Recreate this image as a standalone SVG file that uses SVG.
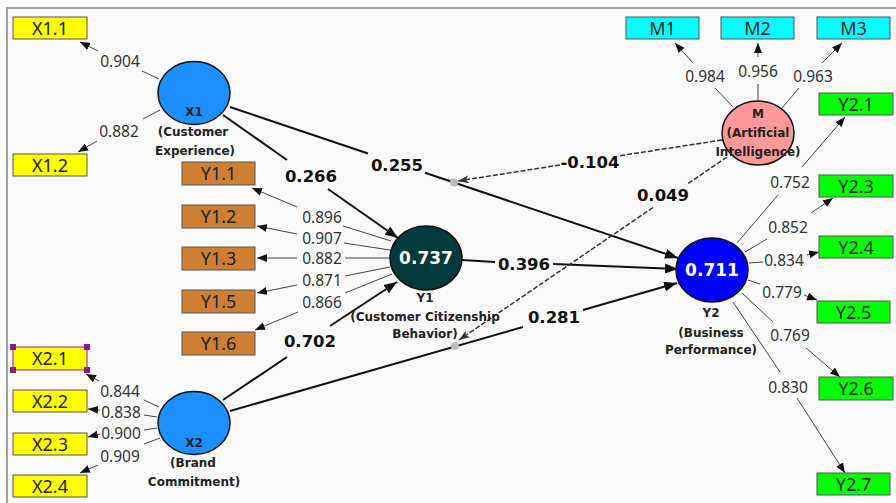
<svg xmlns="http://www.w3.org/2000/svg" width="896" height="503" viewBox="0 0 896 503">
<defs>
<style>
.box{stroke:#555;stroke-width:1}
.bl{font-family:"Noto Sans","Liberation Sans",sans-serif;font-size:18px;fill:#222;text-anchor:middle}
.ld{stroke:#444;stroke-width:1;fill:none}
.ldt{font-family:"Noto Sans","Liberation Sans",sans-serif;font-size:15.5px;fill:#333;text-anchor:middle}
.pl{stroke:#111;stroke-width:2;fill:none}
.pt{font-family:"DejaVu Sans","Liberation Sans",sans-serif;font-weight:bold;font-size:16.5px;fill:#111;text-anchor:middle}
.dl{stroke:#333;stroke-width:1.5;stroke-dasharray:5 2;fill:none}
.node{stroke:#111;stroke-width:1.5}
.nt{font-family:"DejaVu Sans","Liberation Sans",sans-serif;font-weight:bold;font-size:12px;fill:#222;text-anchor:middle}
.nv{font-family:"DejaVu Sans","Liberation Sans",sans-serif;font-weight:bold;font-size:17px;fill:#fff;text-anchor:middle}
.dot{fill:#bbb}
.sel{fill:#8b1a8b}
</style>
<marker id="aL" viewBox="0 0 10 8" markerWidth="10" markerHeight="8" refX="10" refY="4" orient="auto" markerUnits="userSpaceOnUse"><path d="M0,0 L10,4 L0,8 z" fill="#111"/></marker>
<marker id="aP" viewBox="0 0 13 10" markerWidth="13" markerHeight="10" refX="13" refY="5" orient="auto" markerUnits="userSpaceOnUse"><path d="M0,0 L13,5 L0,10 z" fill="#111"/></marker>
<marker id="aD" viewBox="0 0 11 8" markerWidth="11" markerHeight="8" refX="11" refY="4" orient="auto" markerUnits="userSpaceOnUse"><path d="M0,0 L11,4 L0,8 L3,4 z" fill="#333"/></marker>
</defs>
<rect x="0" y="0" width="896" height="503" fill="#ffffff"/>
<rect x="7" y="8" width="900" height="500" fill="#f9f9f9" stroke="#a0a0a0" stroke-width="2"/>

<g id="connectors">
  <!-- X1 loadings -->
  <line class="ld" x1="159" y1="79" x2="142" y2="71"/>
  <line class="ld" x1="98" y1="51" x2="80" y2="42" marker-end="url(#aL)"/>
  <text class="ldt" x="120" y="66.5">0.904</text>
  <line class="ld" x1="160" y1="110" x2="143" y2="119"/>
  <line class="ld" x1="97" y1="141" x2="78" y2="152" marker-end="url(#aL)"/>
  <text class="ldt" x="119" y="136.5">0.882</text>
  <!-- Y1 loadings -->
  <line class="ld" x1="391" y1="241" x2="343" y2="226"/>
  <line class="ld" x1="297" y1="207" x2="252" y2="188" marker-end="url(#aL)"/>
  <text class="ldt" x="322" y="222.5">0.896</text>
  <line class="ld" x1="390" y1="250" x2="344" y2="243"/>
  <line class="ld" x1="297" y1="234" x2="257" y2="226" marker-end="url(#aL)"/>
  <text class="ldt" x="322" y="243.5">0.907</text>
  <line class="ld" x1="390" y1="258" x2="345" y2="258"/>
  <line class="ld" x1="297" y1="258" x2="257" y2="258" marker-end="url(#aL)"/>
  <text class="ldt" x="322" y="264">0.882</text>
  <line class="ld" x1="390" y1="267" x2="345" y2="276"/>
  <line class="ld" x1="297" y1="285" x2="257" y2="293" marker-end="url(#aL)"/>
  <text class="ldt" x="322" y="285.5">0.871</text>
  <line class="ld" x1="392" y1="274" x2="345" y2="293"/>
  <line class="ld" x1="298" y1="312" x2="255" y2="330" marker-end="url(#aL)"/>
  <text class="ldt" x="322" y="307.5">0.866</text>
  <!-- X2 loadings -->
  <line class="ld" x1="159" y1="407" x2="144" y2="400"/>
  <line class="ld" x1="99" y1="381" x2="86" y2="374" marker-end="url(#aL)"/>
  <text class="ldt" x="120" y="396.5">0.844</text>
  <line class="ld" x1="157" y1="417" x2="144" y2="415"/>
  <line class="ld" x1="100" y1="410" x2="88" y2="409" marker-end="url(#aL)"/>
  <text class="ldt" x="121" y="418">0.838</text>
  <line class="ld" x1="157" y1="428" x2="144" y2="430"/>
  <line class="ld" x1="100" y1="434" x2="88" y2="437" marker-end="url(#aL)"/>
  <text class="ldt" x="121" y="438.5">0.900</text>
  <line class="ld" x1="160" y1="438" x2="144" y2="444"/>
  <line class="ld" x1="98" y1="465" x2="80" y2="473" marker-end="url(#aL)"/>
  <text class="ldt" x="120" y="461.5">0.909</text>
  <!-- M loadings -->
  <line class="ld" x1="733" y1="107" x2="715" y2="88"/>
  <line class="ld" x1="693" y1="63" x2="675" y2="43" marker-end="url(#aL)"/>
  <text class="ldt" x="705" y="81.5">0.984</text>
  <line class="ld" x1="758" y1="101" x2="758" y2="84"/>
  <line class="ld" x1="758" y1="57" x2="758" y2="43" marker-end="url(#aL)"/>
  <text class="ldt" x="758" y="76.5">0.956</text>
  <line class="ld" x1="782" y1="108" x2="799" y2="88"/>
  <line class="ld" x1="822" y1="63" x2="842" y2="43" marker-end="url(#aL)"/>
  <text class="ldt" x="813" y="81.5">0.963</text>
  <!-- Y2 loadings -->
  <line class="ld" x1="737" y1="243" x2="778" y2="195"/>
  <line class="ld" x1="802" y1="167" x2="845" y2="117" marker-end="url(#aL)"/>
  <text class="ldt" x="790" y="187.5">0.752</text>
  <line class="ld" x1="745" y1="252" x2="767" y2="239"/>
  <line class="ld" x1="811" y1="213" x2="833" y2="198" marker-end="url(#aL)"/>
  <text class="ldt" x="788" y="232.5">0.852</text>
  <line class="ld" x1="749" y1="263" x2="763" y2="262"/>
  <line class="ld" x1="807" y1="255" x2="819" y2="252" marker-end="url(#aL)"/>
  <text class="ldt" x="784" y="265.5">0.834</text>
  <line class="ld" x1="748" y1="280" x2="760" y2="284"/>
  <line class="ld" x1="804" y1="295" x2="817" y2="300" marker-end="url(#aL)"/>
  <text class="ldt" x="782" y="297.5">0.779</text>
  <line class="ld" x1="742" y1="293" x2="773" y2="322"/>
  <line class="ld" x1="806" y1="348" x2="840" y2="377" marker-end="url(#aL)"/>
  <text class="ldt" x="790" y="340.5">0.769</text>
  <line class="ld" x1="733" y1="302" x2="780" y2="372"/>
  <line class="ld" x1="797" y1="398" x2="845" y2="473" marker-end="url(#aL)"/>
  <text class="ldt" x="788" y="392.5">0.830</text>
  <!-- structural paths -->
  <line class="pl" x1="223" y1="115" x2="287" y2="160"/>
  <line class="pl" x1="328" y1="189" x2="398" y2="238" marker-end="url(#aP)"/>
  <text class="pt" x="311" y="182">0.266</text>
  <line class="pl" x1="230" y1="107" x2="368" y2="153.5"/>
  <line class="pl" x1="425" y1="172.7" x2="678" y2="258" marker-end="url(#aP)"/>
  <text class="pt" x="397" y="171">0.255</text>
  <line class="pl" x1="462" y1="260" x2="495" y2="262"/>
  <line class="pl" x1="553" y1="264" x2="678" y2="269" marker-end="url(#aP)"/>
  <text class="pt" x="524" y="270">0.396</text>
  <line class="pl" x1="223" y1="400" x2="287" y2="357"/>
  <line class="pl" x1="330" y1="326" x2="397" y2="282" marker-end="url(#aP)"/>
  <text class="pt" x="310" y="347">0.702</text>
  <line class="pl" x1="230" y1="411" x2="523" y2="327"/>
  <line class="pl" x1="583" y1="310" x2="677" y2="283" marker-end="url(#aP)"/>
  <text class="pt" x="554" y="323">0.281</text>
  <!-- moderating effects -->
  <line class="dl" x1="722" y1="140" x2="618" y2="156"/>
  <line class="dl" x1="560" y1="165" x2="458" y2="181" marker-end="url(#aD)"/>
  <text class="pt" x="590" y="168">-0.104</text>
  <line class="dl" x1="727" y1="157" x2="688" y2="183.6"/>
  <line class="dl" x1="653" y1="207.5" x2="459" y2="340" marker-end="url(#aD)"/>
  <text class="pt" x="663" y="201">0.049</text>
  <circle class="dot" cx="454" cy="182.5" r="4"/>
  <circle class="dot" cx="455" cy="346" r="4"/>
</g>

<g id="X1">
  <ellipse class="node" cx="194" cy="93" rx="36" ry="31.5" fill="#1e8fff"/>
  <text class="nt" x="194" y="115.5">X1</text>
  <text class="nt" x="193" y="135.5">(Customer</text>
  <text class="nt" x="195" y="154.5">Experience)</text>
</g>
<g id="X2">
  <ellipse class="node" cx="194" cy="423" rx="36" ry="31.5" fill="#1e8fff"/>
  <text class="nt" x="194" y="446.5">X2</text>
  <text class="nt" x="193" y="466.5">(Brand</text>
  <text class="nt" x="194" y="485.5">Commitment)</text>
</g>
<g id="Y1">
  <ellipse class="node" cx="426" cy="258" rx="36" ry="32" fill="#053a3a"/>
  <text class="nv" x="426" y="264">0.737</text>
  <text class="nt" x="425" y="301.5">Y1</text>
  <text class="nt" x="425" y="320.5">(Customer Citizenship</text>
  <text class="nt" x="425" y="338">Behavior)</text>
</g>
<g id="Y2">
  <ellipse class="node" cx="712" cy="270" rx="36" ry="32" fill="#0000ff"/>
  <text class="nv" x="712" y="276">0.711</text>
  <text class="nt" x="711" y="316.5">Y2</text>
  <text class="nt" x="711" y="336.5">(Business</text>
  <text class="nt" x="711" y="353.5">Performance)</text>
</g>
<g id="M">
  <ellipse class="node" cx="758" cy="133" rx="36" ry="32" fill="#ff9999"/>
  <text class="nt" x="758" y="117.5">M</text>
  <text class="nt" x="758" y="136.5">(Artificial</text>
  <text class="nt" x="758" y="155.5">Intelligence)</text>
</g>

<g id="X1.1"><rect class="box" x="13" y="17" width="74" height="22" fill="#ffff00"/><text class="bl" x="50" y="34.5">X1.1</text></g>
<g id="X1.2"><rect class="box" x="13" y="154" width="74" height="22" fill="#ffff00"/><text class="bl" x="50" y="171.5">X1.2</text></g>
<g id="X2.1"><rect x="13" y="347" width="74" height="23" fill="#ffff00" stroke="#a040a0" stroke-width="1.2"/><text class="bl" x="50" y="365">X2.1</text>
  <rect class="sel" x="10" y="344" width="6" height="6"/><rect class="sel" x="84" y="344" width="6" height="6"/><rect class="sel" x="10" y="367" width="6" height="6"/><rect class="sel" x="84" y="367" width="6" height="6"/></g>
<g id="X2.2"><rect class="box" x="13" y="390" width="74" height="22" fill="#ffff00"/><text class="bl" x="50" y="407.5">X2.2</text></g>
<g id="X2.3"><rect class="box" x="13" y="433" width="74" height="22" fill="#ffff00"/><text class="bl" x="50" y="450.5">X2.3</text></g>
<g id="X2.4"><rect class="box" x="13" y="475" width="74" height="22" fill="#ffff00"/><text class="bl" x="50" y="492.5">X2.4</text></g>

<g id="Y1.1"><rect class="box" x="182" y="162" width="73" height="23" fill="#cd8034"/><text class="bl" x="218.5" y="180">Y1.1</text></g>
<g id="Y1.2"><rect class="box" x="182" y="205" width="73" height="23" fill="#cd8034"/><text class="bl" x="218.5" y="223">Y1.2</text></g>
<g id="Y1.3"><rect class="box" x="182" y="247" width="73" height="23" fill="#cd8034"/><text class="bl" x="218.5" y="265">Y1.3</text></g>
<g id="Y1.5"><rect class="box" x="182" y="290" width="73" height="23" fill="#cd8034"/><text class="bl" x="218.5" y="308">Y1.5</text></g>
<g id="Y1.6"><rect class="box" x="182" y="332" width="73" height="23" fill="#cd8034"/><text class="bl" x="218.5" y="350">Y1.6</text></g>

<g id="M1"><rect class="box" x="626" y="17" width="73" height="22" fill="#00ffff"/><text class="bl" x="662.5" y="34.5">M1</text></g>
<g id="M2"><rect class="box" x="721" y="17" width="73" height="22" fill="#00ffff"/><text class="bl" x="757.5" y="34.5">M2</text></g>
<g id="M3"><rect class="box" x="817" y="17" width="73" height="22" fill="#00ffff"/><text class="bl" x="853.5" y="34.5">M3</text></g>

<g id="Y2.1"><rect class="box" x="819" y="93" width="74" height="22" fill="#00ff00"/><text class="bl" x="856" y="110.5">Y2.1</text></g>
<g id="Y2.3"><rect class="box" x="819" y="175" width="74" height="22" fill="#00ff00"/><text class="bl" x="856" y="192.5">Y2.3</text></g>
<g id="Y2.4"><rect class="box" x="819" y="236" width="74" height="22" fill="#00ff00"/><text class="bl" x="856" y="253.5">Y2.4</text></g>
<g id="Y2.5"><rect class="box" x="817" y="301" width="73" height="22" fill="#00ff00"/><text class="bl" x="853.5" y="318.5">Y2.5</text></g>
<g id="Y2.6"><rect class="box" x="819" y="377" width="74" height="23" fill="#00ff00"/><text class="bl" x="856" y="395">Y2.6</text></g>
<g id="Y2.7"><rect class="box" x="817" y="473" width="73" height="22" fill="#00ff00"/><text class="bl" x="853.5" y="490.5">Y2.7</text></g>
</svg>
